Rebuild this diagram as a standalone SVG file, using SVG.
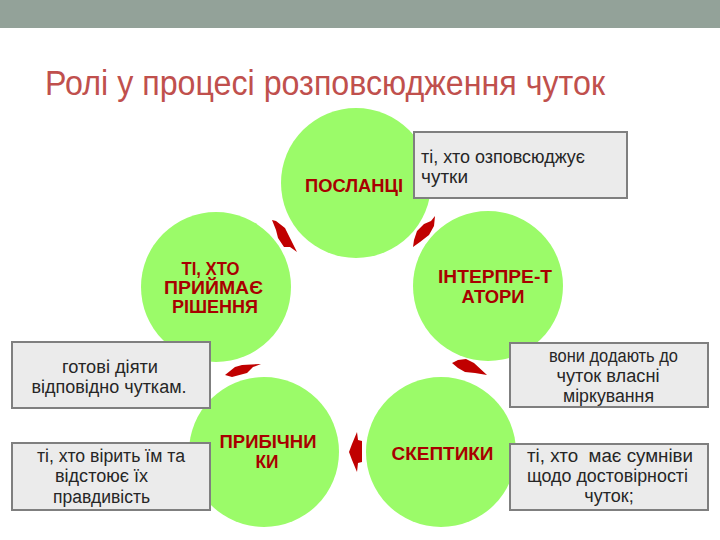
<svg xmlns="http://www.w3.org/2000/svg" width="720" height="540" viewBox="0 0 720 540">
<style>
.node{fill:#9BFB69}
.nt{font-family:"Liberation Sans",Arial,sans-serif;font-weight:bold;font-size:18px;fill:#A80000;text-anchor:middle}
.arr{fill:#C00000}
.box{fill:#EBEBEB;stroke:#7F7F7F;stroke-width:2}
.bt{font-family:"Liberation Sans",Arial,sans-serif;font-size:18px;fill:#262626;text-anchor:middle}
</style>
<rect x="0" y="0" width="720" height="540" fill="#FFFFFF"/>
<rect x="0" y="0" width="720" height="28" fill="#93A299"/>
<text x="45" y="95" font-family="'Liberation Sans',Arial,sans-serif" font-size="35" fill="#C0504D" textLength="560" lengthAdjust="spacingAndGlyphs">Ролі у процесі розповсюдження чуток</text>

<g id="node-poslantsi">
<circle class="node" cx="356" cy="183" r="75"/>
<text class="nt" x="354" y="192" textLength="98" lengthAdjust="spacingAndGlyphs">ПОСЛАНЦІ</text>
</g>
<g id="node-interpretatory">
<circle class="node" cx="488" cy="286" r="75"/>
<text class="nt" x="495" y="283" textLength="114" lengthAdjust="spacingAndGlyphs">ІНТЕРПРЕ-Т</text>
<text class="nt" x="493" y="303" textLength="63" lengthAdjust="spacingAndGlyphs">АТОРИ</text>
</g>
<g id="node-skeptyky">
<circle class="node" cx="441" cy="452" r="75"/>
<text class="nt" x="442.5" y="460" textLength="102" lengthAdjust="spacingAndGlyphs">СКЕПТИКИ</text>
</g>
<g id="node-prybichnyky">
<circle class="node" cx="264" cy="452" r="75"/>
<text class="nt" x="268" y="448" textLength="97" lengthAdjust="spacingAndGlyphs">ПРИБІЧНИ</text>
<text class="nt" x="267" y="468" textLength="23" lengthAdjust="spacingAndGlyphs">КИ</text>
</g>
<g id="node-rishennia">
<circle class="node" cx="216" cy="287" r="75"/>
<text class="nt" x="210.5" y="275" textLength="58" lengthAdjust="spacingAndGlyphs">ТІ, ХТО</text>
<text class="nt" x="213.5" y="294" textLength="99" lengthAdjust="spacingAndGlyphs">ПРИЙМАЄ</text>
<text class="nt" x="215" y="313" textLength="86" lengthAdjust="spacingAndGlyphs">РІШЕННЯ</text>
</g>

<g id="connectors">
<polygon class="arr" points="272,220 276,221 285,228 291,240 297,252 290,247 284,247 278,238 276,230"/>
<polygon class="arr" points="435,216 434,226 429,235 420,242 413,247 414,240 417,231 424,224 431,221"/>
<polygon class="arr" points="452,363 458,360 466,359 474,363 487,375 475,373 465,372 458,368"/>
<polygon class="arr" points="357,432 358,440 362,441 362,462 358,463 357,472 352,460 349,452 352,444"/>
<polygon class="arr" points="225,375 235,367 242,365 261,364 253,367 247,373 232,377"/>
</g>

<g id="box-poslantsi">
<rect class="box" x="414" y="132" width="213" height="66"/>
<text class="bt" x="421" y="163" style="text-anchor:start" textLength="164" lengthAdjust="spacingAndGlyphs">ті, хто озповсюджує</text>
<text class="bt" x="421" y="183" style="text-anchor:start" textLength="47" lengthAdjust="spacingAndGlyphs">чутки</text>
</g>
<g id="box-rishennia">
<rect class="box" x="12" y="342" width="198" height="66"/>
<text class="bt" x="110" y="373" textLength="96" lengthAdjust="spacingAndGlyphs">готові діяти</text>
<text class="bt" x="109" y="393" textLength="155" lengthAdjust="spacingAndGlyphs">відповідно чуткам.</text>
</g>
<g id="box-prybichnyky">
<rect class="box" x="12" y="443" width="198" height="67"/>
<text class="bt" x="111" y="462" textLength="148" lengthAdjust="spacingAndGlyphs">ті, хто вірить їм та</text>
<text class="bt" x="101.5" y="482" textLength="93" lengthAdjust="spacingAndGlyphs">відстоює їх</text>
<text class="bt" x="101.5" y="503" textLength="97" lengthAdjust="spacingAndGlyphs">правдивість</text>
</g>
<g id="box-interpretatory">
<rect class="box" x="510" y="343" width="198" height="64"/>
<text class="bt" x="613.5" y="362" textLength="129" lengthAdjust="spacingAndGlyphs">вони додають до</text>
<text class="bt" x="608" y="382" textLength="103" lengthAdjust="spacingAndGlyphs">чуток власні</text>
<text class="bt" x="608.5" y="402" textLength="91" lengthAdjust="spacingAndGlyphs">міркування</text>
</g>
<g id="box-skeptyky">
<rect class="box" x="510" y="444" width="198" height="66"/>
<text class="bt" x="610" y="462" style="white-space:pre" textLength="166" lengthAdjust="spacingAndGlyphs">ті, хто  має сумніви</text>
<text class="bt" x="607.5" y="482" textLength="161" lengthAdjust="spacingAndGlyphs">щодо достовірності</text>
<text class="bt" x="609" y="502">чуток;</text>
</g>
</svg>
